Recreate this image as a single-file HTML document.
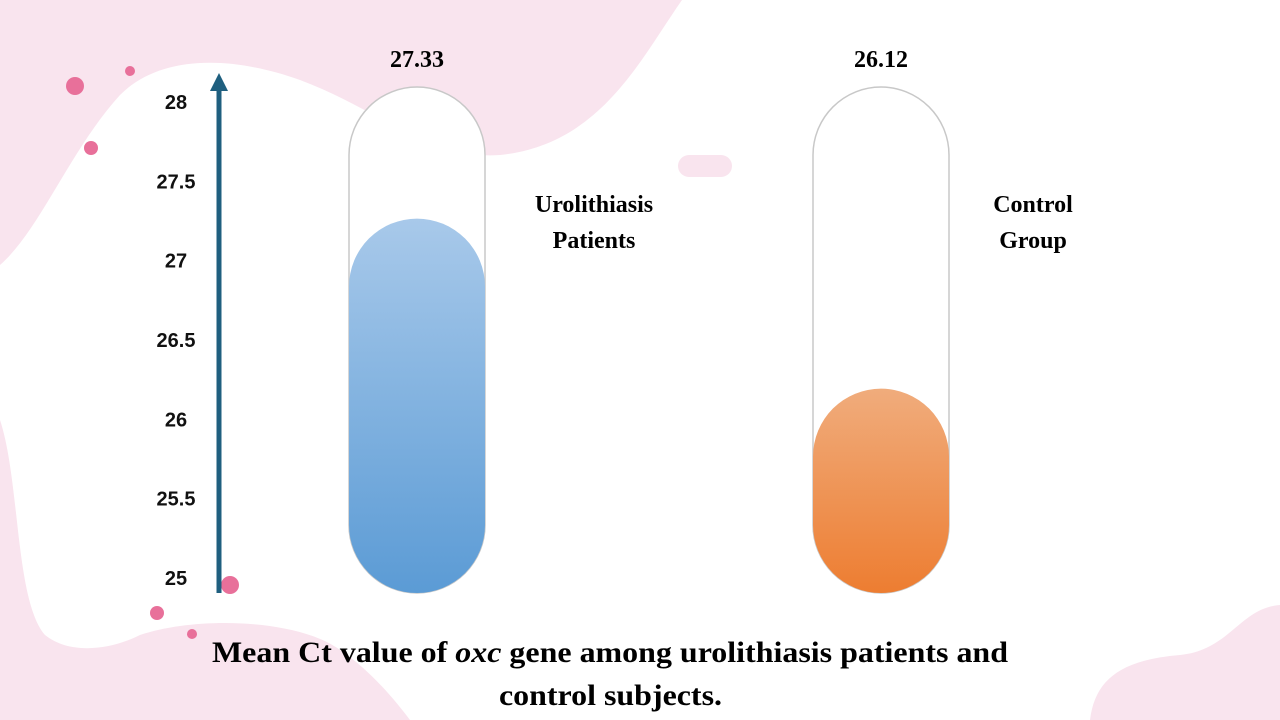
<!DOCTYPE html>
<html><head><meta charset="utf-8"><style>
html,body{margin:0;padding:0;background:#fff;width:1280px;height:720px;overflow:hidden}
svg{display:block}
.tick{font-family:"Liberation Sans",sans-serif;font-weight:bold;font-size:20px;fill:#111}
.ser{font-family:"Liberation Serif",serif;font-weight:bold;font-size:24px;fill:#000}
</style></head><body>
<svg id="chart" width="1280" height="720">
<defs>
<linearGradient id="gBlue" x1="0" y1="0" x2="0" y2="1"><stop offset="0" stop-color="#a8c9ea"/><stop offset="1" stop-color="#5b9bd5"/></linearGradient>
<linearGradient id="gOrange" x1="0" y1="0" x2="0" y2="1"><stop offset="0" stop-color="#f0ac7c"/><stop offset="1" stop-color="#ed7d31"/></linearGradient>
</defs>
<g>
<path fill="#f9e4ee" d="M0,0 L682,0 C640,60 600,145 500,155 C430,160 380,110 300,80 C230,55 160,55 120,95 C70,150 40,230 0,265 Z"/>
<path fill="#f9e4ee" d="M0,420 C20,480 15,600 45,635 C70,655 110,650 140,635 C200,615 300,620 340,650 C370,670 395,700 410,720 L0,720 Z"/>
<path fill="#f9e4ee" d="M1090,720 C1095,680 1120,660 1180,655 C1230,650 1240,608 1280,605 L1280,720 Z"/>
<rect x="678" y="155" width="54" height="22" rx="11" fill="#f9e4ee"/>
<g fill="#e8709a">
<circle cx="75" cy="86" r="9"/>
<circle cx="130" cy="71" r="5"/>
<circle cx="91" cy="148" r="7"/>
<circle cx="230" cy="585" r="9"/>
<circle cx="157" cy="613" r="7"/>
<circle cx="192" cy="634" r="5"/>
</g>
</g>
<g>
<rect x="216.5" y="88" width="5" height="505" fill="#1f5f7f"/>
<polygon points="219,73 210,91 228,91" fill="#1f5f7f"/>
<g id="ticks"></g>
</g>
<g id="bars"></g>
<g font-family="Liberation Serif, serif" font-weight="bold" font-size="30" fill="#000">
<text x="212" y="662" textLength="796" lengthAdjust="spacingAndGlyphs">Mean Ct value of <tspan font-style="italic">oxc</tspan> gene among urolithiasis patients and</text>
<text x="499" y="705" textLength="223" lengthAdjust="spacingAndGlyphs">control subjects.</text>
</g>
</svg>
<script>
const tickValues=[25,25.5,26,26.5,27,27.5,28];
const tickLabels=["25","25.5","26","26.5","27","27.5","28"];
const categories=[["Urolithiasis","Patients"],["Control","Group"]];
const values=[27.33,26.12];
const valueLabels=["27.33","26.12"];
const NS="http://www.w3.org/2000/svg";
function tickY(v){return 578-(v-25)*158.7;}
function fillY(v){return 546-(v-25)*140.5;}
const tg=document.getElementById('ticks');
tickValues.forEach((v,i)=>{
 const t=document.createElementNS(NS,'text');
 
 
 t.setAttribute('class','tick');t.setAttribute('x',176);t.setAttribute('y',tickY(v)+7);
 t.setAttribute('text-anchor','middle');t.textContent=tickLabels[i];tg.appendChild(t);
});
const bg=document.getElementById('bars');
const xs=[349,813],labelXs=[594,1033],tubeW=136,tubeTop=87,tubeBot=593,tubeR=68,grads=['url(#gBlue)','url(#gOrange)'];
values.forEach((v,i)=>{
 const x=xs[i];
 const g=document.createElementNS(NS,'g');
 
 
 const tube=document.createElementNS(NS,'rect');
 
 
 tube.setAttribute('x',x);tube.setAttribute('y',tubeTop);tube.setAttribute('width',tubeW);tube.setAttribute('height',tubeBot-tubeTop);
 tube.setAttribute('rx',tubeR);tube.setAttribute('fill','#fff');tube.setAttribute('stroke','#c8c8c8');tube.setAttribute('stroke-width','1.5');
 g.appendChild(tube);
 const fy=fillY(v);
 const f=document.createElementNS(NS,'rect');
 
 
 f.setAttribute('x',x);f.setAttribute('y',fy);f.setAttribute('width',tubeW);f.setAttribute('height',tubeBot-fy);
 f.setAttribute('rx',tubeR);f.setAttribute('fill',grads[i]);
 g.appendChild(f);
 const vl=document.createElementNS(NS,'text');
 
 
 vl.setAttribute('class','ser');vl.setAttribute('x',x+tubeW/2);vl.setAttribute('y',67);vl.setAttribute('text-anchor','middle');
 vl.textContent=valueLabels[i];g.appendChild(vl);
 categories[i].forEach((line,j)=>{
  const c=document.createElementNS(NS,'text');
  
  
  c.setAttribute('class','ser');c.setAttribute('x',labelXs[i]);c.setAttribute('y',212+j*36);c.setAttribute('text-anchor','middle');
  c.textContent=line;g.appendChild(c);
 });
 bg.appendChild(g);
});
</script>
</body></html>
